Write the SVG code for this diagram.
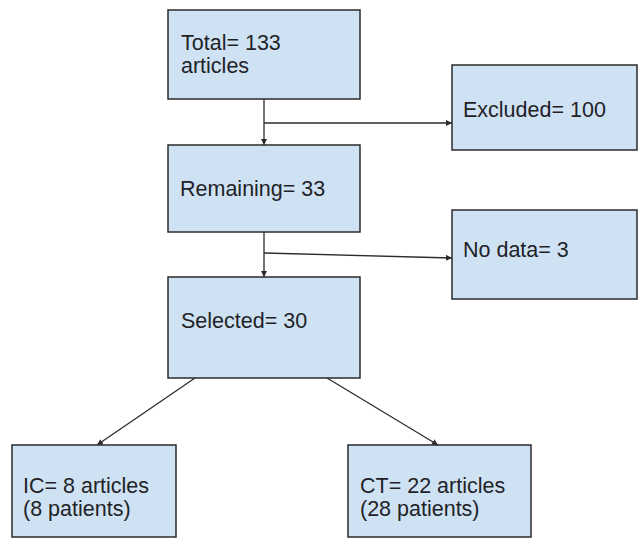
<svg xmlns="http://www.w3.org/2000/svg" width="639" height="538" viewBox="0 0 639 538">
<style>
.box{fill:#cfe2f3;stroke:#2b2b2b;stroke-width:1.5}
.t{font-family:"Liberation Sans",Arial,sans-serif;font-size:21.5px;fill:#1f2328}
.c{fill:none;stroke:#2b2b2b;stroke-width:1.3}
</style>
<defs>
<marker id="ah" viewBox="0 0 10 10" refX="10" refY="5" markerWidth="6" markerHeight="6" markerUnits="userSpaceOnUse" orient="auto">
<path d="M0,0 L10,5 L0,10 z" fill="#2b2b2b"/>
</marker>
</defs>
<rect width="639" height="538" fill="#ffffff"/>
<g id="connectors">
<line class="c" x1="264" y1="99" x2="264" y2="145" marker-end="url(#ah)"/>
<line class="c" x1="264" y1="123" x2="452" y2="123" marker-end="url(#ah)"/>
<line class="c" x1="264" y1="232" x2="264" y2="277" marker-end="url(#ah)"/>
<line class="c" x1="264" y1="253" x2="452" y2="258" marker-end="url(#ah)"/>
<line class="c" x1="195" y1="378" x2="97" y2="445" marker-end="url(#ah)"/>
<line class="c" x1="327" y1="378" x2="438" y2="445" marker-end="url(#ah)"/>
</g>
<g id="total">
<rect class="box" x="168" y="10" width="192" height="89"/>
<text class="t" x="181" y="50">Total= 133</text>
<text class="t" x="181" y="73">articles</text>
</g>
<g id="excluded">
<rect class="box" x="452" y="65" width="185" height="85"/>
<text class="t" x="463" y="117">Excluded= 100</text>
</g>
<g id="remaining">
<rect class="box" x="168" y="145" width="192" height="87"/>
<text class="t" x="180" y="196">Remaining= 33</text>
</g>
<g id="nodata">
<rect class="box" x="452" y="210" width="185" height="89"/>
<text class="t" x="463" y="257">No data= 3</text>
</g>
<g id="selected">
<rect class="box" x="168" y="277" width="192" height="101"/>
<text class="t" x="181" y="328">Selected= 30</text>
</g>
<g id="ic">
<rect class="box" x="12" y="445" width="164" height="92"/>
<text class="t" x="23" y="493">IC= 8 articles</text>
<text class="t" x="23" y="516">(8 patients)</text>
</g>
<g id="ct">
<rect class="box" x="348" y="445" width="183" height="92"/>
<text class="t" x="360" y="493">CT= 22 articles</text>
<text class="t" x="360" y="516">(28 patients)</text>
</g>
</svg>
